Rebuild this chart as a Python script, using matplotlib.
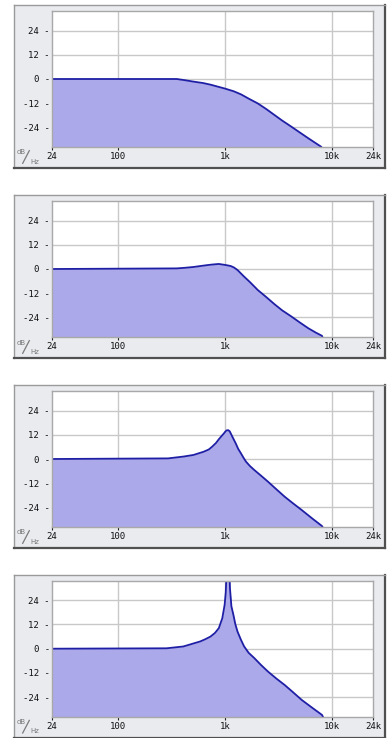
import matplotlib.pyplot as plt
import numpy as np

# ---- data (freq in Hz, level in dB) ----
freq_1 = [24, 351, 420, 504, 620, 726, 800, 1000, 1200, 1400, 1650, 2010, 2400, 2890,
          3400, 4160, 5000, 5980, 7000, 7880, 8500]
db_1 = [0, 0, -0.6, -1.3, -2.0, -2.8, -3.4, -4.8, -6.1, -7.6, -9.7, -12.1, -14.8, -17.9,
        -20.6, -23.7, -26.6, -29.4, -31.8, -33.6, -37]

freq_2 = [24, 351, 420, 504, 650, 750, 870, 1000, 1120, 1200, 1300, 1500, 1700, 2010,
          2400, 2890, 3400, 4160, 5000, 5980, 7000, 8000, 8600]
db_2 = [0, 0.3, 0.6, 1.0, 1.8, 2.2, 2.5, 2.0, 1.5, 0.8, -0.5, -3.8, -6.5, -10.4,
        -13.8, -17.5, -20.5, -23.6, -26.6, -29.4, -31.5, -33.1, -37]

freq_3 = [24, 292, 405, 504, 627, 700, 753, 820, 870, 920, 970, 1000, 1030, 1065, 1100,
          1170, 1250, 1320, 1400, 1480, 1560, 1700, 1870, 2150, 2500, 3000, 3590, 4300,
          5180, 6500, 8000, 8600]
db_3 = [0, 0.3, 1.2, 2.0, 3.6, 4.7, 6.1, 8.0, 9.8, 11.3, 12.7, 13.6, 14.2, 14.3, 13.7,
        10.8, 7.8, 5.0, 2.8, 0.6, -1.3, -3.5, -5.5, -8.2, -11.2, -15.0, -18.7, -22.0,
        -25.3, -29.5, -33.2, -36]

freq_4 = [24, 282, 405, 583, 650, 726, 800, 870, 937, 985, 1010, 1030, 1090, 1105, 1140,
          1190, 1240, 1300, 1400, 1500, 1650, 1870, 2150, 2500, 3000, 3590, 4300, 5180,
          6500, 8000, 8600]
db_4 = [0, 0.2, 1.1, 3.6, 4.7, 6.0, 7.8, 10.2, 15.1, 21.7, 28, 40, 40, 30, 21,
        16.8, 12.2, 8.5, 4.4, 1.1, -2.0, -4.7, -8.0, -11.3, -14.8, -18.0, -21.6, -25.4,
        -29.3, -32.8, -36]

x_ticks = [24, 100, 1000, 10000, 24000]
x_labels = ['24', '100', '1k', '10k', '24k']
y_ticks = [24, 12, 0, -12, -24]
y_labels = ['24 -', '12 -', '0 -', '-12 -', '-24 -']

curves = [(freq_1, db_1), (freq_2, db_2), (freq_3, db_3), (freq_4, db_4)]

# ---- layout in pixels ----
W, H = 388, 738
OFFSETS = [0, 190, 380, 569.7]
FILL_COL = '#aba9e9'
LINE_COL = '#1f1fa6'
GRID_COL = '#c8c8c8'
UNIT_COL = '#7a7a7a'


def box(x0, y0, x1, y1):
    return [x0 / W, 1 - y1 / H, (x1 - x0) / W, (y1 - y0) / H]


fig = plt.figure(figsize=(W / 100, H / 100), dpi=100)
fig.patch.set_facecolor('white')

for off, (ff, dd) in zip(OFFSETS, curves):

    # grey panel frame
    fr = fig.add_axes(box(14, 5 + off, 385, 168 + off), zorder=0)
    fr.set_facecolor('#e9ebef')
    fr.set_xticks([])
    fr.set_yticks([])
    for s in ['left', 'top']:
        fr.spines[s].set_color('#9a9a9a')
        fr.spines[s].set_linewidth(1.0)
    for s in ['right', 'bottom']:
        fr.spines[s].set_color('#505050')
        fr.spines[s].set_linewidth(1.6)

    # dB/Hz corner label
    fig.text(17 / W, 1 - (154.5 + off) / H, 'dB', fontsize=5, color=UNIT_COL, zorder=5)
    fig.text(30.5 / W, 1 - (163.5 + off) / H, 'Hz', fontsize=5, color=UNIT_COL, zorder=5)
    slash = plt.Line2D([22.7 / W, 29.3 / W], [1 - (163.3 + off) / H, 1 - (150.7 + off) / H],
                       transform=fig.transFigure, color=UNIT_COL, lw=0.9, zorder=5)
    fig.add_artist(slash)

    # plot area
    ax = fig.add_axes(box(52, 11 + off, 373, 147 + off), zorder=1)
    ax.set_facecolor('white')
    ax.set_xscale('log')
    ax.set_xlim(24, 24000)
    ax.set_ylim(-33.7, 33.7)

    ax.fill_between(ff, -40, dd, color=FILL_COL, lw=0, zorder=2)
    ax.plot(ff, dd, color=LINE_COL, lw=1.3, zorder=3)

    for xv in [100, 1000, 10000]:
        ax.axvline(xv, color=GRID_COL, lw=1.0, zorder=1.5)
    for yv in y_ticks:
        ax.axhline(yv, color=GRID_COL, lw=1.0, zorder=1.5)

    ax.set_xticks(x_ticks)
    ax.set_xticklabels(x_labels)
    ax.minorticks_off()
    ax.set_yticks(y_ticks)
    ax.set_yticklabels(y_labels)
    ax.tick_params(axis='x', length=2.5, width=0.8, color='#202020', pad=1.0,
                   labelsize=6.5, labelcolor='#101010')
    ax.tick_params(axis='y', length=0, pad=1.5, labelsize=6.5, labelcolor='#101010')
    for lab in ax.get_xticklabels() + ax.get_yticklabels():
        lab.set_family('DejaVu Sans Mono')

    for s in ax.spines.values():
        s.set_color('#a8a8a8')
        s.set_linewidth(1.0)
        s.set_zorder(4)

plt.savefig('out.png', dpi=100)
